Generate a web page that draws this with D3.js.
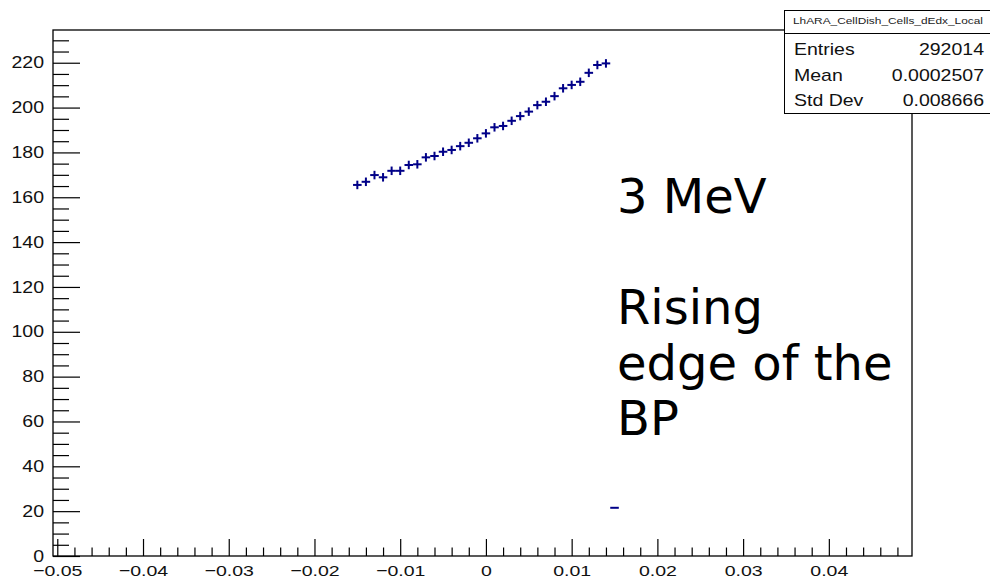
<!DOCTYPE html>
<html>
<head>
<meta charset="utf-8">
<script src="https://cdn.jsdelivr.net/npm/d3@7"></script>
<style>
  body { margin: 0; background: #fff; }
  svg { display: block; }
</style>
</head>
<body>
<svg id="chart" width="990" height="579"></svg>
<script>
// Profile of dE/dx along the local coordinate (bin width 0.001)
const binCenters = [
  -0.015, -0.014, -0.013, -0.012, -0.011, -0.010, -0.009, -0.008, -0.007, -0.006,
  -0.005, -0.004, -0.003, -0.002, -0.001,  0.000,  0.001,  0.002,  0.003,  0.004,
   0.005,  0.006,  0.007,  0.008,  0.009,  0.010,  0.011,  0.012,  0.013,  0.014
];
const binMeans = [
  165.5, 166.9, 169.9, 168.9, 171.8, 171.8, 174.4, 174.7, 177.8, 178.4,
  180.3, 181.1, 182.8, 184.3, 186.3, 188.5, 191.2, 191.8, 194.1, 196.2,
  198.2, 201.1, 202.6, 205.1, 208.6, 210.1, 211.5, 215.5, 219.0, 219.7
];
const binErrors = [
  1.9, 1.9, 1.9, 1.9, 1.9, 1.9, 1.9, 1.9, 1.9, 1.9,
  1.9, 1.9, 1.9, 1.9, 1.9, 1.9, 1.9, 1.9, 1.9, 1.9,
  1.9, 1.9, 1.9, 1.9, 1.9, 1.9, 1.9, 1.9, 1.9, 1.9
];
// single-entry bin at the far edge
const edgeCenters = [0.015];
const edgeMeans = [21.5];
const edgeErrors = [0];
const binWidth = 0.001;

const xMajorTicks = [-0.05, -0.04, -0.03, -0.02, -0.01, 0, 0.01, 0.02, 0.03, 0.04];
const xTickLabels = ["\u22120.05", "\u22120.04", "\u22120.03", "\u22120.02", "\u22120.01", "0", "0.01", "0.02", "0.03", "0.04"];
const yMajorTicks = [0, 20, 40, 60, 80, 100, 120, 140, 160, 180, 200, 220];
const yTickLabels = ["0", "20", "40", "60", "80", "100", "120", "140", "160", "180", "200", "220"];

const statsTitle = "LhARA_CellDish_Cells_dEdx_Local";
const statsNames = ["Entries", "Mean", "Std Dev"];
const statsValues = ["292014", "0.0002507", "0.008666"];

const noteLines = ["3 MeV", "", "Rising", "edge of the", "BP"];

// ---- layout ----
const frame = { left: 53, top: 30, right: 912, bottom: 556 };
const stretch = 1.22;               // wide sans rendering of the axis/stat text
const rootFont = "'Liberation Sans', Arial, Helvetica, sans-serif";
const markColor = "#000088";

const svg = d3.select("#chart");

const x = d3.scaleLinear().domain([-0.0505, 0.0497]).range([frame.left, frame.right]);
const y = d3.scaleLinear().domain([0, 234.6]).range([frame.bottom, frame.top]);

// minor tick values
const xMinor = d3.range(-25, 25).map(i => +(i * 0.002).toFixed(3)).filter(v => !xMajorTicks.some(t => Math.abs(t - v) < 1e-9));
const yMinor = d3.range(0, 47).map(i => i * 5).filter(v => v % 20 !== 0 && v < 234.6);

// frame
svg.append("rect")
  .attr("x", frame.left).attr("y", frame.top)
  .attr("width", frame.right - frame.left).attr("height", frame.bottom - frame.top)
  .attr("fill", "none").attr("stroke", "#000").attr("stroke-width", 1.3);

// x axis (ticks point into the frame)
const gx = svg.append("g").attr("transform", `translate(0,${frame.bottom})`);
gx.append("g").call(
  d3.axisBottom(x).tickValues(xMinor).tickSize(-8.5).tickSizeOuter(0).tickFormat("")
);
gx.append("g").call(
  d3.axisBottom(x).tickValues(xMajorTicks).tickSize(-17).tickSizeOuter(0).tickPadding(9)
    .tickFormat((d, i) => xTickLabels[i])
);
gx.selectAll(".domain").remove();

// y axis
const gy = svg.append("g").attr("transform", `translate(${frame.left},0)`);
gy.append("g").call(
  d3.axisLeft(y).tickValues(yMinor).tickSize(-16).tickSizeOuter(0).tickFormat("")
);
gy.append("g").call(
  d3.axisLeft(y).tickValues(yMajorTicks).tickSize(-27).tickSizeOuter(0).tickPadding(9)
    .tickFormat((d, i) => yTickLabels[i])
);
gy.selectAll(".domain").remove();

svg.selectAll(".tick line").attr("stroke", "#000").attr("stroke-width", 1.2);
svg.selectAll(".tick text")
  .attr("font-family", rootFont).attr("font-size", 16).attr("fill", "#111");
gx.selectAll(".tick text").attr("font-size", 15.5).attr("transform", `scale(${stretch * 16 / 15.5},1)`);
gy.selectAll(".tick text").each(function () {
  const t = d3.select(this);
  t.attr("x", +t.attr("x") / stretch).attr("transform", `scale(${stretch},1)`);
});

// data: error crosses
function drawCrosses(centers, means, errs) {
  const g = svg.append("g").attr("stroke", markColor).attr("stroke-width", 2).attr("fill", "none");
  const pts = centers.map((c, i) => ({ c, m: means[i], e: errs[i] }));
  g.selectAll("line.h").data(pts).join("line").attr("class", "h")
    .attr("x1", d => x(d.c - binWidth / 2)).attr("x2", d => x(d.c + binWidth / 2))
    .attr("y1", d => y(d.m)).attr("y2", d => y(d.m));
  g.selectAll("line.v").data(pts.filter(d => d.e > 0)).join("line").attr("class", "v")
    .attr("x1", d => x(d.c)).attr("x2", d => x(d.c))
    .attr("y1", d => y(d.m - d.e)).attr("y2", d => y(d.m + d.e));
}
drawCrosses(binCenters, binMeans, binErrors);
drawCrosses(edgeCenters, edgeMeans, edgeErrors);

// annotation
const note = svg.append("text")
  .attr("font-family", "'DejaVu Sans', Verdana, sans-serif")
  .attr("font-size", 48).attr("fill", "#000");
noteLines.forEach((line, i) => {
  note.append("tspan").attr("x", 617).attr("y", 213 + i * 55.5).text(line || "\u00a0");
});

// statistics box
const box = svg.append("g");
box.append("rect")
  .attr("x", 784.5).attr("y", 10.5).attr("width", 220).attr("height", 103)
  .attr("fill", "#fff").attr("stroke", "#000").attr("stroke-width", 1);
box.append("line")
  .attr("x1", 784.5).attr("x2", 1000).attr("y1", 33.5).attr("y2", 33.5)
  .attr("stroke", "#000").attr("stroke-width", 1);
box.append("text")
  .attr("x", 888).attr("y", 24).attr("text-anchor", "middle")
  .attr("font-family", rootFont).attr("font-size", 9.8).attr("fill", "#222")
  .attr("textLength", 190).attr("lengthAdjust", "spacingAndGlyphs")
  .text(statsTitle);
const rowBase = [55, 80.5, 106];
statsNames.forEach((name, i) => {
  box.append("text")
    .attr("transform", `translate(794,${rowBase[i]}) scale(${stretch},1)`)
    .attr("font-family", rootFont).attr("font-size", 16).attr("fill", "#111")
    .text(name);
  box.append("text")
    .attr("transform", `translate(984,${rowBase[i]}) scale(${stretch},1)`)
    .attr("text-anchor", "end")
    .attr("font-family", rootFont).attr("font-size", 16).attr("fill", "#111")
    .text(statsValues[i]);
});
</script>
</body>
</html>
